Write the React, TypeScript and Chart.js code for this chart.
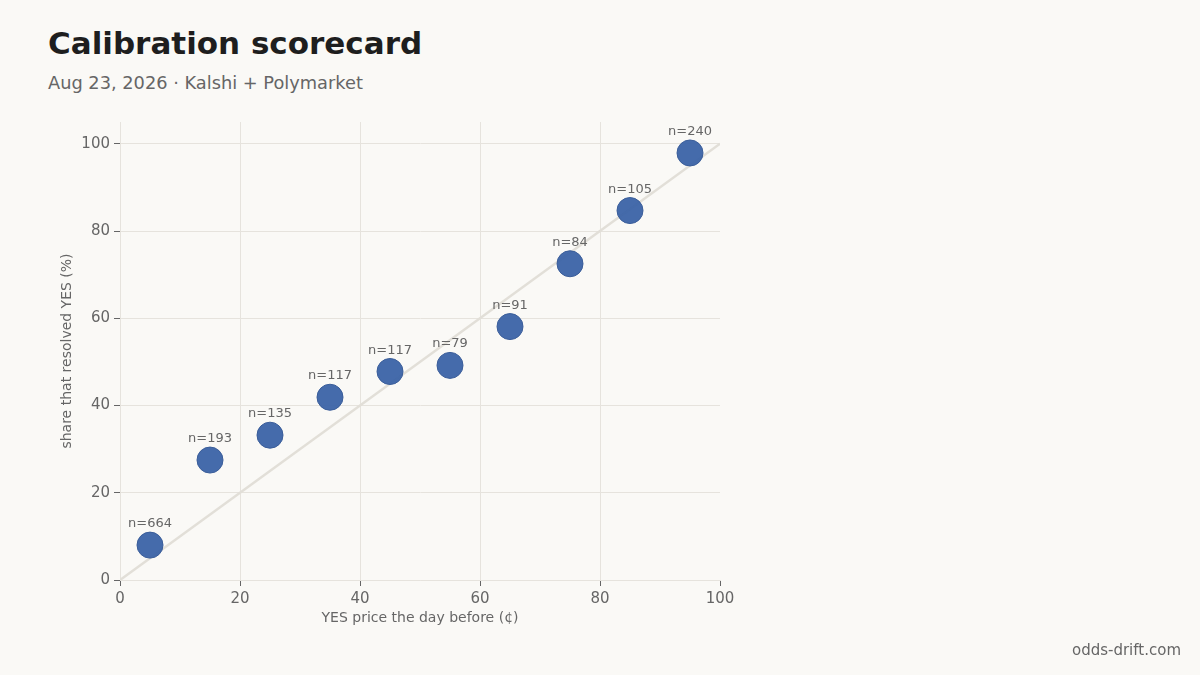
import { useEffect, useRef } from "react";
import { Chart, registerables } from "chart.js";

Chart.register(...registerables);

// calibration buckets: midpoint of YES price bucket (cents)
const priceBuckets = [5, 15, 25, 35, 45, 55, 65, 75, 85, 95];
// share of markets in the bucket that resolved YES (%)
const resolvedYes = [8.0, 27.5, 33.2, 41.9, 47.8, 49.2, 58.1, 72.5, 84.7, 97.9];
// number of markets per bucket
const bucketCounts = [664, 193, 135, 117, 117, 79, 91, 84, 105, 240];

const BG = "#faf9f6";
const GRID = "#e6e3dd";
const MUTED = "#666666";
const FONT = "'DejaVu Sans', sans-serif";

export default function App() {
  const canvasRef = useRef<HTMLCanvasElement>(null);

  useEffect(() => {
    const canvas = canvasRef.current;
    if (!canvas) return;
    Chart.getChart(canvas)?.destroy();

    // draw "n=..." above each dot
    const countLabels = {
      id: "countLabels",
      afterDatasetsDraw(chart: Chart) {
        const meta = chart.getDatasetMeta(1);
        const ctx = chart.ctx;
        ctx.save();
        ctx.font = `13px ${FONT}`;
        ctx.fillStyle = MUTED;
        ctx.textAlign = "center";
        ctx.textBaseline = "alphabetic";
        meta.data.forEach((pt: any, i: number) => {
          ctx.fillText(`n=${bucketCounts[i]}`, pt.x, pt.y - 18);
        });
        ctx.restore();
      },
    };

    const chart = new Chart(canvas, {
      type: "scatter",
      data: {
        datasets: [
          {
            type: "line",
            label: "perfect calibration",
            data: [
              { x: 0, y: 0 },
              { x: 100, y: 100 },
            ],
            borderColor: "#e2dfd8",
            borderWidth: 2.5,
            pointRadius: 0,
            fill: false,
            order: 2,
          },
          {
            label: "observed",
            data: priceBuckets.map((x, i) => ({ x, y: resolvedYes[i] })),
            backgroundColor: "rgba(59, 99, 166, 0.95)",
            borderColor: "#3a5d99",
            borderWidth: 1,
            pointRadius: 13,
            order: 1,
          },
        ],
      },
      options: {
        responsive: true,
        maintainAspectRatio: false,
        animation: false,
        layout: { padding: { top: 122, left: 0, right: 480, bottom: 0 } },
        plugins: {
          legend: { display: false },
          tooltip: { enabled: false },
        },
        scales: {
          x: {
            type: "linear",
            min: 0,
            max: 100,
            ticks: {
              stepSize: 20,
              color: MUTED,
              padding: 4,
              font: { family: FONT, size: 15 },
            },
            grid: {
              color: (c: any) => (c.tick && c.tick.value === 100 ? "transparent" : GRID),
              tickColor: MUTED,
              tickLength: 6,
            },
            border: { color: GRID },
            title: {
              display: true,
              text: "YES price the day before (¢)",
              color: MUTED,
              font: { family: FONT, size: 14 },
              padding: { top: 0, bottom: 48 },
            },
            afterFit(scale: any) {
              scale.height = 95;
              scale.paddingLeft = 0;
              scale.paddingRight = 0;
            },
          },
          y: {
            type: "linear",
            min: 0,
            max: 105,
            ticks: {
              stepSize: 20,
              includeBounds: false,
              color: MUTED,
              padding: 4,
              font: { family: FONT, size: 15 },
            },
            grid: {
              color: GRID,
              tickColor: MUTED,
              tickLength: 6,
            },
            border: { color: GRID },
            title: {
              display: true,
              text: "share that resolved YES (%)",
              color: MUTED,
              font: { family: FONT, size: 14 },
              padding: { top: 59, bottom: 0 },
            },
            afterFit(scale: any) {
              scale.width = 120;
              scale.paddingTop = 0;
              scale.paddingBottom = 0;
            },
          },
        },
      },
      plugins: [countLabels],
    });

    return () => chart.destroy();
  }, []);

  return (
    <div
      style={{
        position: "absolute",
        left: 0,
        top: 0,
        width: 1200,
        height: 675,
        background: BG,
        fontFamily: FONT,
        overflow: "hidden",
      }}
    >
      <div
        style={{
          position: "absolute",
          left: 48,
          top: 28,
          fontSize: 31,
          lineHeight: 1,
          fontWeight: "bold",
          color: "#1e1e1e",
          whiteSpace: "nowrap",
        }}
      >
        Calibration scorecard
      </div>
      <div
        style={{
          position: "absolute",
          left: 48,
          top: 74,
          fontSize: 17.8,
          lineHeight: 1,
          color: MUTED,
          whiteSpace: "nowrap",
        }}
      >
        Aug 23, 2026 · Kalshi + Polymarket
      </div>
      <div style={{ position: "absolute", left: 0, top: 0, width: 1200, height: 675 }}>
        <canvas ref={canvasRef} aria-label="calibration scatter of resolved YES share by price" />
      </div>
      <div
        style={{
          position: "absolute",
          right: 19,
          top: 643,
          fontSize: 15,
          lineHeight: 1,
          color: MUTED,
          whiteSpace: "nowrap",
        }}
      >
        odds-drift.com
      </div>
    </div>
  );
}
